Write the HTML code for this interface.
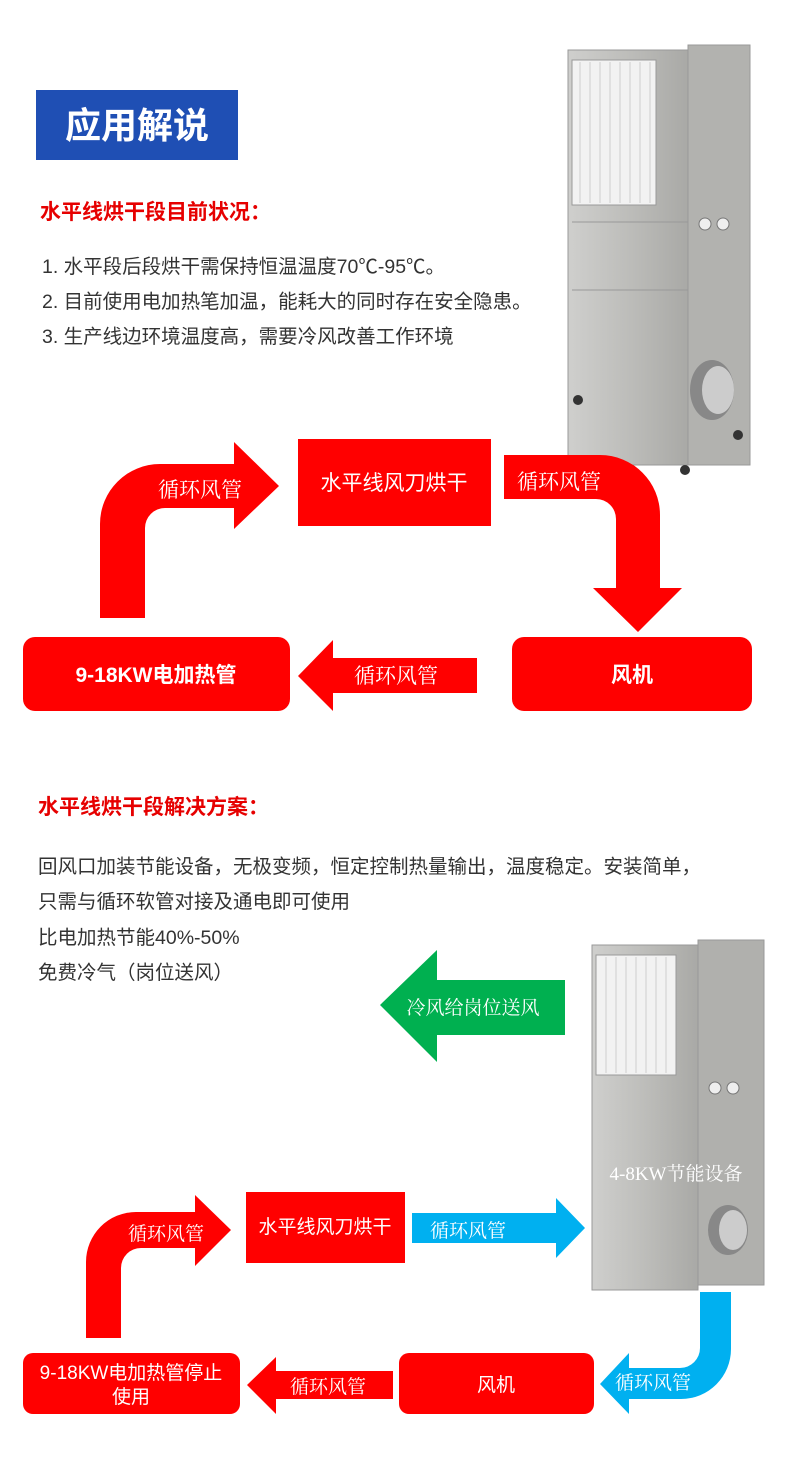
<!DOCTYPE html>
<html><head><meta charset="utf-8"><style>
body{margin:0;background:#fff;}
svg{display:block}
.s{font-family:"Liberation Sans","Noto Sans CJK SC",sans-serif}
.r{font-family:"Liberation Serif","Noto Serif CJK SC",serif}
</style></head><body>
<svg width="790" height="1466" viewBox="0 0 790 1466" xmlns="http://www.w3.org/2000/svg">
<defs>
<linearGradient id="m" x1="0" x2="1" y1="0" y2="0">
<stop offset="0" stop-color="#cfcfcd"/><stop offset="0.5" stop-color="#bdbdba"/><stop offset="1" stop-color="#a9a9a6"/>
</linearGradient>
</defs>
<!-- top machine -->
<g>
<rect x="568" y="50" width="120" height="415" fill="url(#m)" stroke="#999"/>
<rect x="688" y="45" width="62" height="420" fill="#b2b2af" stroke="#999"/>
<rect x="572" y="60" width="84" height="145" fill="#f2f2f2" stroke="#999"/>
<g stroke="#cfcfcf" stroke-width="1">
<line x1="580" y1="62" x2="580" y2="203"/><line x1="590" y1="62" x2="590" y2="203"/><line x1="600" y1="62" x2="600" y2="203"/><line x1="610" y1="62" x2="610" y2="203"/><line x1="620" y1="62" x2="620" y2="203"/><line x1="630" y1="62" x2="630" y2="203"/><line x1="640" y1="62" x2="640" y2="203"/><line x1="650" y1="62" x2="650" y2="203"/>
</g>
<line x1="572" y1="290" x2="688" y2="290" stroke="#999"/>
<line x1="572" y1="222" x2="688" y2="222" stroke="#999"/>
<circle cx="705" cy="224" r="6" fill="#eee" stroke="#777"/><circle cx="723" cy="224" r="6" fill="#eee" stroke="#777"/>
<ellipse cx="712" cy="390" rx="22" ry="30" fill="#888"/><ellipse cx="718" cy="390" rx="16" ry="24" fill="#ccc"/>
<circle cx="578" cy="400" r="5" fill="#333"/><circle cx="685" cy="470" r="5" fill="#333"/><circle cx="738" cy="435" r="5" fill="#333"/>
</g>
<!-- title -->
<rect x="36" y="90" width="202" height="70" fill="#1f4fb4"/>
<text x="137" y="138" text-anchor="middle" class="s" font-size="36" font-weight="bold" fill="#fff">应用解说</text>
<text x="40" y="219" class="s" font-size="21" font-weight="bold" fill="#e60000">水平线烘干段目前状况：</text>
<text x="42" y="273" class="s" font-size="19.5" fill="#333">1. 水平段后段烘干需保持恒温温度70℃-95℃。</text>
<text x="42" y="308" class="s" font-size="19.5" fill="#333">2. 目前使用电加热笔加温，能耗大的同时存在安全隐患。</text>
<text x="42" y="343" class="s" font-size="19.5" fill="#333">3. 生产线边环境温度高，需要冷风改善工作环境</text>
<!-- top diagram -->
<rect x="298" y="439" width="193" height="87" fill="#ff0000"/>
<text x="394" y="490" text-anchor="middle" class="s" font-size="21" fill="#fff">水平线风刀烘干</text>
<path d="M100,618 L100,524 A60,60 0 0 1 160,464 L234,464 L234,442 L279,486 L234,529 L234,508 L165,508 A20,20 0 0 0 145,528 L145,618 Z" fill="#ff0000"/>
<text x="200" y="497" text-anchor="middle" class="r" font-size="21" fill="#fff">循环风管</text>
<path d="M504,455 L600,455 A60,60 0 0 1 660,515 L660,588 L682,588 L638,632 L593,588 L616,588 L616,519 A20,20 0 0 0 596,499 L504,499 Z" fill="#ff0000"/>
<text x="559" y="489" text-anchor="middle" class="r" font-size="21" fill="#fff">循环风管</text>
<rect x="512" y="637" width="240" height="74" rx="12" fill="#ff0000"/>
<text x="632" y="682" text-anchor="middle" class="s" font-size="21" font-weight="bold" fill="#fff">风机</text>
<rect x="23" y="637" width="267" height="74" rx="12" fill="#ff0000"/>
<text x="156" y="682" text-anchor="middle" class="s" font-size="21" font-weight="bold" fill="#fff">9-18KW电加热管</text>
<path d="M298,676 L333,640 L333,658 L477,658 L477,693 L333,693 L333,711 Z" fill="#ff0000"/>
<text x="396" y="683" text-anchor="middle" class="r" font-size="21" fill="#fff">循环风管</text>
<!-- second section -->
<text x="38" y="814" class="s" font-size="21" font-weight="bold" fill="#e60000">水平线烘干段解决方案：</text>
<text x="38" y="873" class="s" font-size="19.5" fill="#333">回风口加装节能设备，无极变频，恒定控制热量输出，温度稳定。安装简单，</text>
<text x="38" y="908" class="s" font-size="19.5" fill="#333">只需与循环软管对接及通电即可使用</text>
<text x="38" y="944" class="s" font-size="19.5" fill="#333">比电加热节能40%-50%</text>
<text x="38" y="979" class="s" font-size="19.5" fill="#333">免费冷气（岗位送风）</text>
<!-- bottom machine -->
<g>
<rect x="592" y="945" width="106" height="345" fill="url(#m)" stroke="#999"/>
<rect x="698" y="940" width="66" height="345" fill="#b0b0ad" stroke="#999"/>
<rect x="596" y="955" width="80" height="120" fill="#f2f2f2" stroke="#999"/>
<g stroke="#cfcfcf">
<line x1="606" y1="957" x2="606" y2="1073"/><line x1="616" y1="957" x2="616" y2="1073"/><line x1="626" y1="957" x2="626" y2="1073"/><line x1="636" y1="957" x2="636" y2="1073"/><line x1="646" y1="957" x2="646" y2="1073"/><line x1="656" y1="957" x2="656" y2="1073"/><line x1="666" y1="957" x2="666" y2="1073"/>
</g>
<circle cx="715" cy="1088" r="6" fill="#eee" stroke="#777"/><circle cx="733" cy="1088" r="6" fill="#eee" stroke="#777"/>
<ellipse cx="728" cy="1230" rx="20" ry="25" fill="#888"/><ellipse cx="733" cy="1230" rx="14" ry="20" fill="#ccc"/>
<text x="676" y="1180" text-anchor="middle" class="r" font-size="19" fill="#fff">4-8KW节能设备</text>
</g>
<path d="M380,1005 L437,950 L437,980 L565,980 L565,1035 L437,1035 L437,1062 Z" fill="#00b050"/>
<text x="473" y="1014" text-anchor="middle" class="r" font-size="19" fill="#fff">冷风给岗位送风</text>
<!-- bottom diagram -->
<rect x="246" y="1192" width="159" height="71" fill="#ff0000"/>
<text x="325" y="1233" text-anchor="middle" class="s" font-size="19" fill="#fff">水平线风刀烘干</text>
<path d="M412,1213 L556,1213 L556,1198 L585,1228 L556,1258 L556,1243 L412,1243 Z" fill="#00b0f0"/>
<text x="468" y="1237" text-anchor="middle" class="r" font-size="19" fill="#fff">循环风管</text>
<path d="M86,1338 L86,1262 A50,50 0 0 1 136,1212 L195,1212 L195,1195 L231,1230 L195,1266 L195,1248 L141,1248 A20,20 0 0 0 121,1268 L121,1338 Z" fill="#ff0000"/>
<text x="166" y="1240" text-anchor="middle" class="r" font-size="19" fill="#fff">循环风管</text>
<rect x="23" y="1353" width="217" height="61" rx="10" fill="#ff0000"/>
<text x="131" y="1379" text-anchor="middle" class="s" font-size="19" fill="#fff">9-18KW电加热管停止</text>
<text x="131" y="1403" text-anchor="middle" class="s" font-size="19" fill="#fff">使用</text>
<path d="M247,1385 L276,1357 L276,1371 L393,1371 L393,1399 L276,1399 L276,1414 Z" fill="#ff0000"/>
<text x="328" y="1393" text-anchor="middle" class="r" font-size="19" fill="#fff">循环风管</text>
<rect x="399" y="1353" width="195" height="61" rx="10" fill="#ff0000"/>
<text x="496" y="1391" text-anchor="middle" class="s" font-size="19" fill="#fff">风机</text>
<path d="M700,1292 L731,1292 L731,1349 A50,50 0 0 1 681,1399 L629,1399 L629,1414 L600,1384 L629,1353 L629,1368 L680,1368 A20,20 0 0 0 700,1348 Z" fill="#00b0f0"/>
<text x="653" y="1389" text-anchor="middle" class="r" font-size="19" fill="#fff">循环风管</text>
</svg>
</body></html>
